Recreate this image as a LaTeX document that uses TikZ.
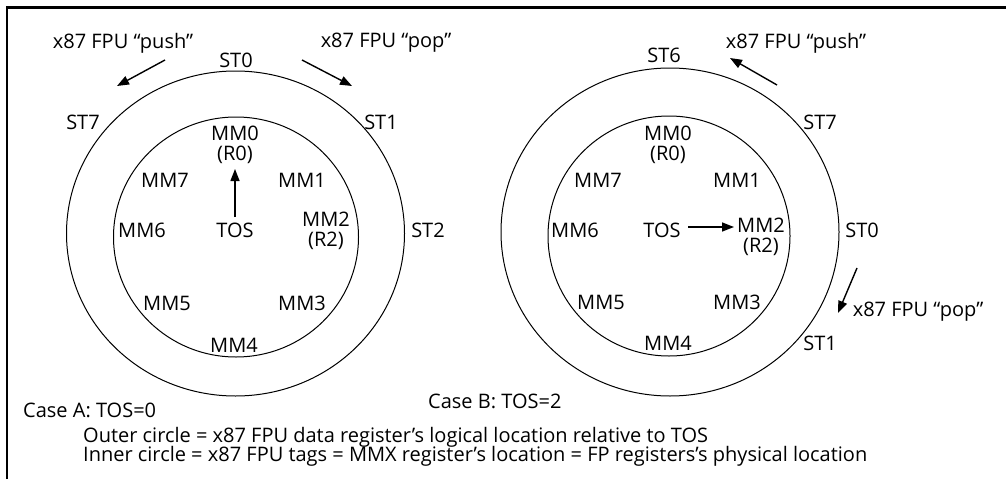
\documentclass[tikz,border=0pt]{standalone}
\usepackage{fontspec}
\setmainfont{Open Sans}
\usetikzlibrary{arrows.meta}
\begin{document}
\begin{tikzpicture}[x=1pt,y=-1pt,
  lbl/.style={inner sep=0pt,font=\fontsize{20}{20.5}\selectfont,align=center},
  ring/.style={line width=1pt},
  arr/.style={line width=1.4pt,-{Triangle[length=12pt,width=9pt]}},
  frame/.style={line width=2.2pt}]
\useasboundingbox (0,0) rectangle (1006,479);
% frame
\draw[frame] (7,479) -- (7,7.5) -- (1006,7.5);
% ---------- Case A ----------
\draw[ring] (235.5,233.5) ellipse [x radius=169, y radius=162.5];
\draw[ring] (236,237) ellipse [x radius=122.5, y radius=120];
\node[lbl] (pushA) at (123,43) {x87 FPU “push”};
\node[lbl] (popA) at (386,43) {x87 FPU “pop”};
\node[lbl] (st0A) at (236,60) {ST0};
\node[lbl] (st7A) at (83,122) {ST7};
\node[lbl] (st1A) at (381,122) {ST1};
\node[lbl] (st2A) at (428,230) {ST2};
\node[lbl] (mm0A) at (235,145) {MM0\\(R0)};
\node[lbl] (mm7A) at (165,180) {MM7};
\node[lbl] (mm1A) at (302,180) {MM1};
\node[lbl] (mm6A) at (142,230) {MM6};
\node[lbl] (tosA) at (235,230) {TOS};
\node[lbl] (mm2A) at (326,231) {MM2\\(R2)};
\node[lbl] (mm5A) at (167,303) {MM5};
\node[lbl] (mm3A) at (302,303) {MM3};
\node[lbl] (mm4A) at (234,345) {MM4};
\node[lbl,anchor=west] (caseA) at (23,410) {Case A: TOS=0};
\coordinate (pushAs) at (165,60);
\coordinate (pushAe) at (117,86);
\coordinate (popAs) at (302,60);
\coordinate (popAe) at (352,86);
\coordinate (tosAs) at (235,217);
\coordinate (tosAe) at (235,169);
\draw[arr] (pushAs) -- (pushAe);
\draw[arr] (popAs) -- (popAe);
\draw[arr] (tosAs) -- (tosAe);
% ---------- Case B ----------
\draw[ring] (670,232) ellipse [x radius=169, y radius=164];
\draw[ring] (669,236) ellipse [x radius=121, y radius=120];
\node[lbl] (pushB) at (796,43) {x87 FPU “push”};
\node[lbl] (st6B) at (664,55) {ST6};
\node[lbl] (st7B) at (820,122) {ST7};
\node[lbl] (st0B) at (862,230) {ST0};
\node[lbl] (st1B) at (820,343) {ST1};
\node[lbl] (popB) at (918,312) {x87 FPU “pop”};
\node[lbl] (mm0B) at (668,145) {MM0\\(R0)};
\node[lbl] (mm7B) at (598,180) {MM7};
\node[lbl] (mm1B) at (737,180) {MM1};
\node[lbl] (mm6B) at (575,230) {MM6};
\node[lbl] (tosB) at (662,230) {TOS};
\node[lbl] (mm2B) at (761,237) {MM2\\(R2)};
\node[lbl] (mm5B) at (601,302) {MM5};
\node[lbl] (mm3B) at (737,302) {MM3};
\node[lbl] (mm4B) at (668,343) {MM4};
\node[lbl,anchor=west] (caseB) at (428,401) {Case B: TOS=2};
\coordinate (pushBs) at (777,85);
\coordinate (pushBe) at (730,58);
\coordinate (popBs) at (857,268);
\coordinate (popBe) at (838,313);
\coordinate (tosBs) at (688,227);
\coordinate (tosBe) at (734,227);
\draw[arr] (pushBs) -- (pushBe);
\draw[arr] (popBs) -- (popBe);
\draw[arr] (tosBs) -- (tosBe);
% ---------- legend ----------
\node[lbl,anchor=west] (outer) at (83,437) {Outer circle = x87 FPU data register’s logical location relative to TOS};
\node[lbl,anchor=west] (inner) at (83,456) {Inner circle = x87 FPU tags = MMX register’s location = FP registers’s physical location};
\end{tikzpicture}
\end{document}
